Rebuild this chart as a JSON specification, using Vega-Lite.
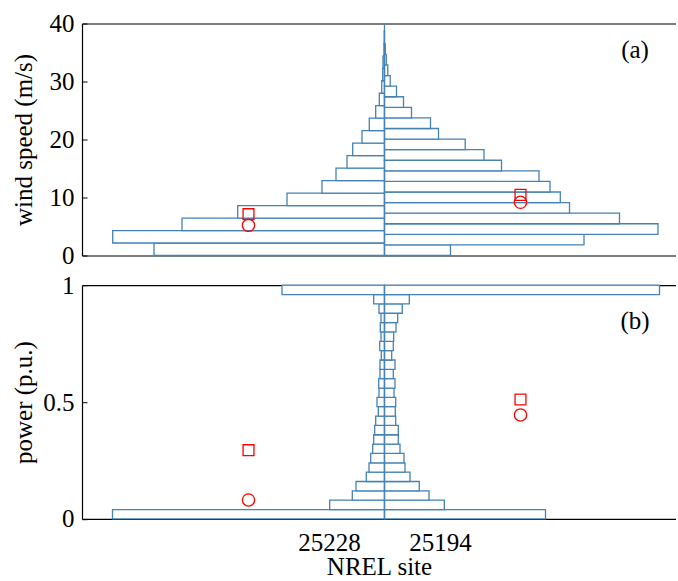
{
  "$schema": "https://vega.github.io/schema/vega-lite/v6.json",
  "background": "white",
  "padding": {"left": 11, "top": 11.5, "right": 0, "bottom": 0},
  "spacing": 4.7,
  "config": {
    "view": {"stroke": null},
    "font": "Liberation Serif",
    "axis": {
      "labelFont": "Liberation Serif", "titleFont": "Liberation Serif",
      "labelColor": "black", "titleColor": "black", "domainColor": "black", "tickColor": "black",
      "labelFontSize": 25, "titleFontSize": 25, "titleFontWeight": "normal",
      "grid": false, "domainWidth": 1.2, "tickWidth": 1
    }
  },
  "vconcat": [
    {
      "width": 594, "height": 232,
      "resolve": {"axis": {"x": "independent", "y": "independent"}},
      "layer": [
        {
          "data": {"values": [
            {"site": "25228", "lo": 0, "hi": 2.152, "w": -230.5},
            {"site": "25228", "lo": 2.152, "hi": 4.304, "w": -271.8},
            {"site": "25228", "lo": 4.304, "hi": 6.456, "w": -202.5},
            {"site": "25228", "lo": 6.456, "hi": 8.608, "w": -146.8},
            {"site": "25228", "lo": 8.608, "hi": 10.76, "w": -97.5},
            {"site": "25228", "lo": 10.76, "hi": 12.912, "w": -62.5},
            {"site": "25228", "lo": 12.912, "hi": 15.064, "w": -48.5},
            {"site": "25228", "lo": 15.064, "hi": 17.216, "w": -37.5},
            {"site": "25228", "lo": 17.216, "hi": 19.368, "w": -31.8},
            {"site": "25228", "lo": 19.368, "hi": 21.52, "w": -22.5},
            {"site": "25228", "lo": 21.52, "hi": 23.672, "w": -15.2},
            {"site": "25228", "lo": 23.672, "hi": 25.824, "w": -8.8},
            {"site": "25228", "lo": 25.824, "hi": 27.976, "w": -5.2},
            {"site": "25228", "lo": 27.976, "hi": 30.128, "w": -2.8},
            {"site": "25228", "lo": 30.128, "hi": 32.28, "w": -1.8},
            {"site": "25228", "lo": 32.28, "hi": 34.432, "w": -1.5},
            {"site": "25228", "lo": 34.432, "hi": 36.584, "w": -0.5},
            {"site": "25228", "lo": 36.584, "hi": 38.736, "w": -0.3},
            {"site": "25194", "lo": 0, "hi": 1.825, "w": 66},
            {"site": "25194", "lo": 1.825, "hi": 3.65, "w": 199.5},
            {"site": "25194", "lo": 3.65, "hi": 5.475, "w": 273.5},
            {"site": "25194", "lo": 5.475, "hi": 7.3, "w": 235},
            {"site": "25194", "lo": 7.3, "hi": 9.125, "w": 185},
            {"site": "25194", "lo": 9.125, "hi": 10.95, "w": 175.8},
            {"site": "25194", "lo": 10.95, "hi": 12.775, "w": 165.5},
            {"site": "25194", "lo": 12.775, "hi": 14.6, "w": 154.5},
            {"site": "25194", "lo": 14.6, "hi": 16.425, "w": 117},
            {"site": "25194", "lo": 16.425, "hi": 18.25, "w": 99.5},
            {"site": "25194", "lo": 18.25, "hi": 20.075, "w": 80.7},
            {"site": "25194", "lo": 20.075, "hi": 21.9, "w": 54},
            {"site": "25194", "lo": 21.9, "hi": 23.725, "w": 46},
            {"site": "25194", "lo": 23.725, "hi": 25.55, "w": 27},
            {"site": "25194", "lo": 25.55, "hi": 27.375, "w": 19},
            {"site": "25194", "lo": 27.375, "hi": 29.2, "w": 12},
            {"site": "25194", "lo": 29.2, "hi": 31.025, "w": 5.7},
            {"site": "25194", "lo": 31.025, "hi": 32.85, "w": 3.3},
            {"site": "25194", "lo": 32.85, "hi": 34.675, "w": 1.8},
            {"site": "25194", "lo": 34.675, "hi": 36.5, "w": 0.8}
          ]},
          "mark": {"type": "rect", "fill": "white", "stroke": "#4682b4", "strokeWidth": 1.3},
          "encoding": {
            "x": {"field": "w", "type": "quantitative",
                  "scale": {"domain": [-302.5, 291.5], "nice": false, "zero": false},
                  "axis": {"orient": "bottom", "labels": false, "ticks": false, "title": null}},
            "x2": {"datum": 0},
            "y": {"field": "lo", "type": "quantitative",
                  "scale": {"domain": [0, 40], "nice": false},
                  "axis": {"values": [0, 10, 20, 30, 40], "tickSize": -5, "labelPadding": 13,
                           "title": "wind speed (m/s)", "titleX": -58.5, "titleAngle": 270, "titleBaseline": "middle"}},
            "y2": {"field": "hi"}
          }
        },
        {
          "data": {"values": [{"x": 0, "y0": 0, "y1": 40}]},
          "mark": {"type": "rule", "color": "#4682b4", "strokeWidth": 1.3},
          "encoding": {
            "x": {"field": "x", "type": "quantitative",
                  "axis": {"orient": "top", "labels": false, "ticks": false, "title": null}},
            "y": {"field": "y0", "type": "quantitative", "axis": null},
            "y2": {"field": "y1"}
          }
        },
        {
          "data": {"values": [
            {"site": "25228", "stat": "o", "x": -136, "y": 5.2},
            {"site": "25228", "stat": "s", "x": -136, "y": 7.12},
            {"site": "25194", "stat": "o", "x": 136, "y": 9.17},
            {"site": "25194", "stat": "s", "x": 136, "y": 10.45}
          ]},
          "mark": {"type": "point", "filled": false, "color": "#ff0000", "strokeWidth": 1.3, "opacity": 1},
          "encoding": {
            "x": {"field": "x", "type": "quantitative", "axis": null},
            "y": {"field": "y", "type": "quantitative", "axis": null},
            "shape": {"field": "stat", "type": "nominal", "scale": {"domain": ["o", "s"], "range": ["circle", "square"]}, "legend": null},
            "size": {"field": "stat", "type": "nominal", "scale": {"domain": ["o", "s"], "range": [150, 118]}, "legend": null}
          }
        },
        {
          "data": {"values": [{"t": "(a)", "x": 250.5, "y": 35.5}]},
          "mark": {"type": "text", "fontSize": 25, "font": "Liberation Serif", "color": "black", "align": "center", "baseline": "middle"},
          "encoding": {
            "x": {"field": "x", "type": "quantitative", "axis": null},
            "y": {"field": "y", "type": "quantitative", "axis": null},
            "text": {"field": "t"}
          }
        }
      ]
    },
    {
      "width": 594, "height": 233.7,
      "resolve": {"axis": {"x": "independent", "y": "independent"}},
      "layer": [
        {
          "data": {"values": [
            {"site": "25228", "lo": 0, "hi": 0.04, "w": -272},
            {"site": "25228", "lo": 0.04, "hi": 0.08, "w": -54.8},
            {"site": "25228", "lo": 0.08, "hi": 0.12, "w": -32.2},
            {"site": "25228", "lo": 0.12, "hi": 0.16, "w": -28.5},
            {"site": "25228", "lo": 0.16, "hi": 0.2, "w": -18.2},
            {"site": "25228", "lo": 0.2, "hi": 0.24, "w": -15.5},
            {"site": "25228", "lo": 0.24, "hi": 0.28, "w": -13.8},
            {"site": "25228", "lo": 0.28, "hi": 0.32, "w": -11.8},
            {"site": "25228", "lo": 0.32, "hi": 0.36, "w": -10.8},
            {"site": "25228", "lo": 0.36, "hi": 0.4, "w": -9.8},
            {"site": "25228", "lo": 0.4, "hi": 0.44, "w": -8.8},
            {"site": "25228", "lo": 0.44, "hi": 0.48, "w": -6.2},
            {"site": "25228", "lo": 0.48, "hi": 0.52, "w": -7.5},
            {"site": "25228", "lo": 0.52, "hi": 0.56, "w": -5.5},
            {"site": "25228", "lo": 0.56, "hi": 0.6, "w": -5.8},
            {"site": "25228", "lo": 0.6, "hi": 0.64, "w": -4.5},
            {"site": "25228", "lo": 0.64, "hi": 0.68, "w": -4.5},
            {"site": "25228", "lo": 0.68, "hi": 0.72, "w": -3.2},
            {"site": "25228", "lo": 0.72, "hi": 0.76, "w": -4.8},
            {"site": "25228", "lo": 0.76, "hi": 0.8, "w": -3.5},
            {"site": "25228", "lo": 0.8, "hi": 0.84, "w": -4.2},
            {"site": "25228", "lo": 0.84, "hi": 0.88, "w": -3.5},
            {"site": "25228", "lo": 0.88, "hi": 0.92, "w": -5.5},
            {"site": "25228", "lo": 0.92, "hi": 0.96, "w": -10.8},
            {"site": "25228", "lo": 0.96, "hi": 1.0, "w": -102.5},
            {"site": "25194", "lo": 0, "hi": 0.04, "w": 161},
            {"site": "25194", "lo": 0.04, "hi": 0.08, "w": 59.8},
            {"site": "25194", "lo": 0.08, "hi": 0.12, "w": 44.5},
            {"site": "25194", "lo": 0.12, "hi": 0.16, "w": 34.8},
            {"site": "25194", "lo": 0.16, "hi": 0.2, "w": 25.5},
            {"site": "25194", "lo": 0.2, "hi": 0.24, "w": 20.5},
            {"site": "25194", "lo": 0.24, "hi": 0.28, "w": 19.5},
            {"site": "25194", "lo": 0.28, "hi": 0.32, "w": 15.5},
            {"site": "25194", "lo": 0.32, "hi": 0.36, "w": 13.8},
            {"site": "25194", "lo": 0.36, "hi": 0.4, "w": 13.8},
            {"site": "25194", "lo": 0.4, "hi": 0.44, "w": 11.2},
            {"site": "25194", "lo": 0.44, "hi": 0.48, "w": 10.8},
            {"site": "25194", "lo": 0.48, "hi": 0.52, "w": 11.2},
            {"site": "25194", "lo": 0.52, "hi": 0.56, "w": 9.5},
            {"site": "25194", "lo": 0.56, "hi": 0.6, "w": 10.5},
            {"site": "25194", "lo": 0.6, "hi": 0.64, "w": 8.8},
            {"site": "25194", "lo": 0.64, "hi": 0.68, "w": 10.5},
            {"site": "25194", "lo": 0.68, "hi": 0.72, "w": 7.2},
            {"site": "25194", "lo": 0.72, "hi": 0.76, "w": 8.8},
            {"site": "25194", "lo": 0.76, "hi": 0.8, "w": 9.2},
            {"site": "25194", "lo": 0.8, "hi": 0.84, "w": 11.5},
            {"site": "25194", "lo": 0.84, "hi": 0.88, "w": 13.2},
            {"site": "25194", "lo": 0.88, "hi": 0.92, "w": 17.8},
            {"site": "25194", "lo": 0.92, "hi": 0.96, "w": 24.8},
            {"site": "25194", "lo": 0.96, "hi": 1.0, "w": 275}
          ]},
          "mark": {"type": "rect", "fill": "white", "stroke": "#4682b4", "strokeWidth": 1.3},
          "encoding": {
            "x": {"field": "w", "type": "quantitative",
                  "scale": {"domain": [-302.5, 291.5], "nice": false, "zero": false},
                  "axis": {"orient": "bottom", "values": [-55.5, 55.5], "ticks": false, "labelPadding": 12,
                           "labelExpr": "datum.value < 0 ? '25228' : '25194'",
                           "title": "NREL site", "titlePadding": -1.5}},
            "x2": {"datum": 0},
            "y": {"field": "lo", "type": "quantitative",
                  "scale": {"domain": [0, 1], "nice": false},
                  "axis": {"values": [0, 0.5, 1], "tickSize": -5, "labelPadding": 13,
                           "labelExpr": "toString(datum.value)",
                           "title": "power (p.u.)", "titleX": -58.5, "titleAngle": 270, "titleBaseline": "middle"}},
            "y2": {"field": "hi"}
          }
        },
        {
          "data": {"values": [{"x": 0, "y0": 0, "y1": 1}]},
          "mark": {"type": "rule", "color": "#4682b4", "strokeWidth": 1.3},
          "encoding": {
            "x": {"field": "x", "type": "quantitative",
                  "axis": {"orient": "top", "labels": false, "ticks": false, "title": null}},
            "y": {"field": "y0", "type": "quantitative", "axis": null},
            "y2": {"field": "y1"}
          }
        },
        {
          "data": {"values": [
            {"site": "25228", "stat": "o", "x": -136, "y": 0.081},
            {"site": "25228", "stat": "s", "x": -136, "y": 0.294},
            {"site": "25194", "stat": "o", "x": 136, "y": 0.445},
            {"site": "25194", "stat": "s", "x": 136, "y": 0.511}
          ]},
          "mark": {"type": "point", "filled": false, "color": "#ff0000", "strokeWidth": 1.3, "opacity": 1},
          "encoding": {
            "x": {"field": "x", "type": "quantitative", "axis": null},
            "y": {"field": "y", "type": "quantitative", "axis": null},
            "shape": {"field": "stat", "type": "nominal", "scale": {"domain": ["o", "s"], "range": ["circle", "square"]}, "legend": null},
            "size": {"field": "stat", "type": "nominal", "scale": {"domain": ["o", "s"], "range": [150, 118]}, "legend": null}
          }
        },
        {
          "data": {"values": [{"t": "(b)", "x": 250.5, "y": 0.845}]},
          "mark": {"type": "text", "fontSize": 25, "font": "Liberation Serif", "color": "black", "align": "center", "baseline": "middle"},
          "encoding": {
            "x": {"field": "x", "type": "quantitative", "axis": null},
            "y": {"field": "y", "type": "quantitative", "axis": null},
            "text": {"field": "t"}
          }
        }
      ]
    }
  ]
}
